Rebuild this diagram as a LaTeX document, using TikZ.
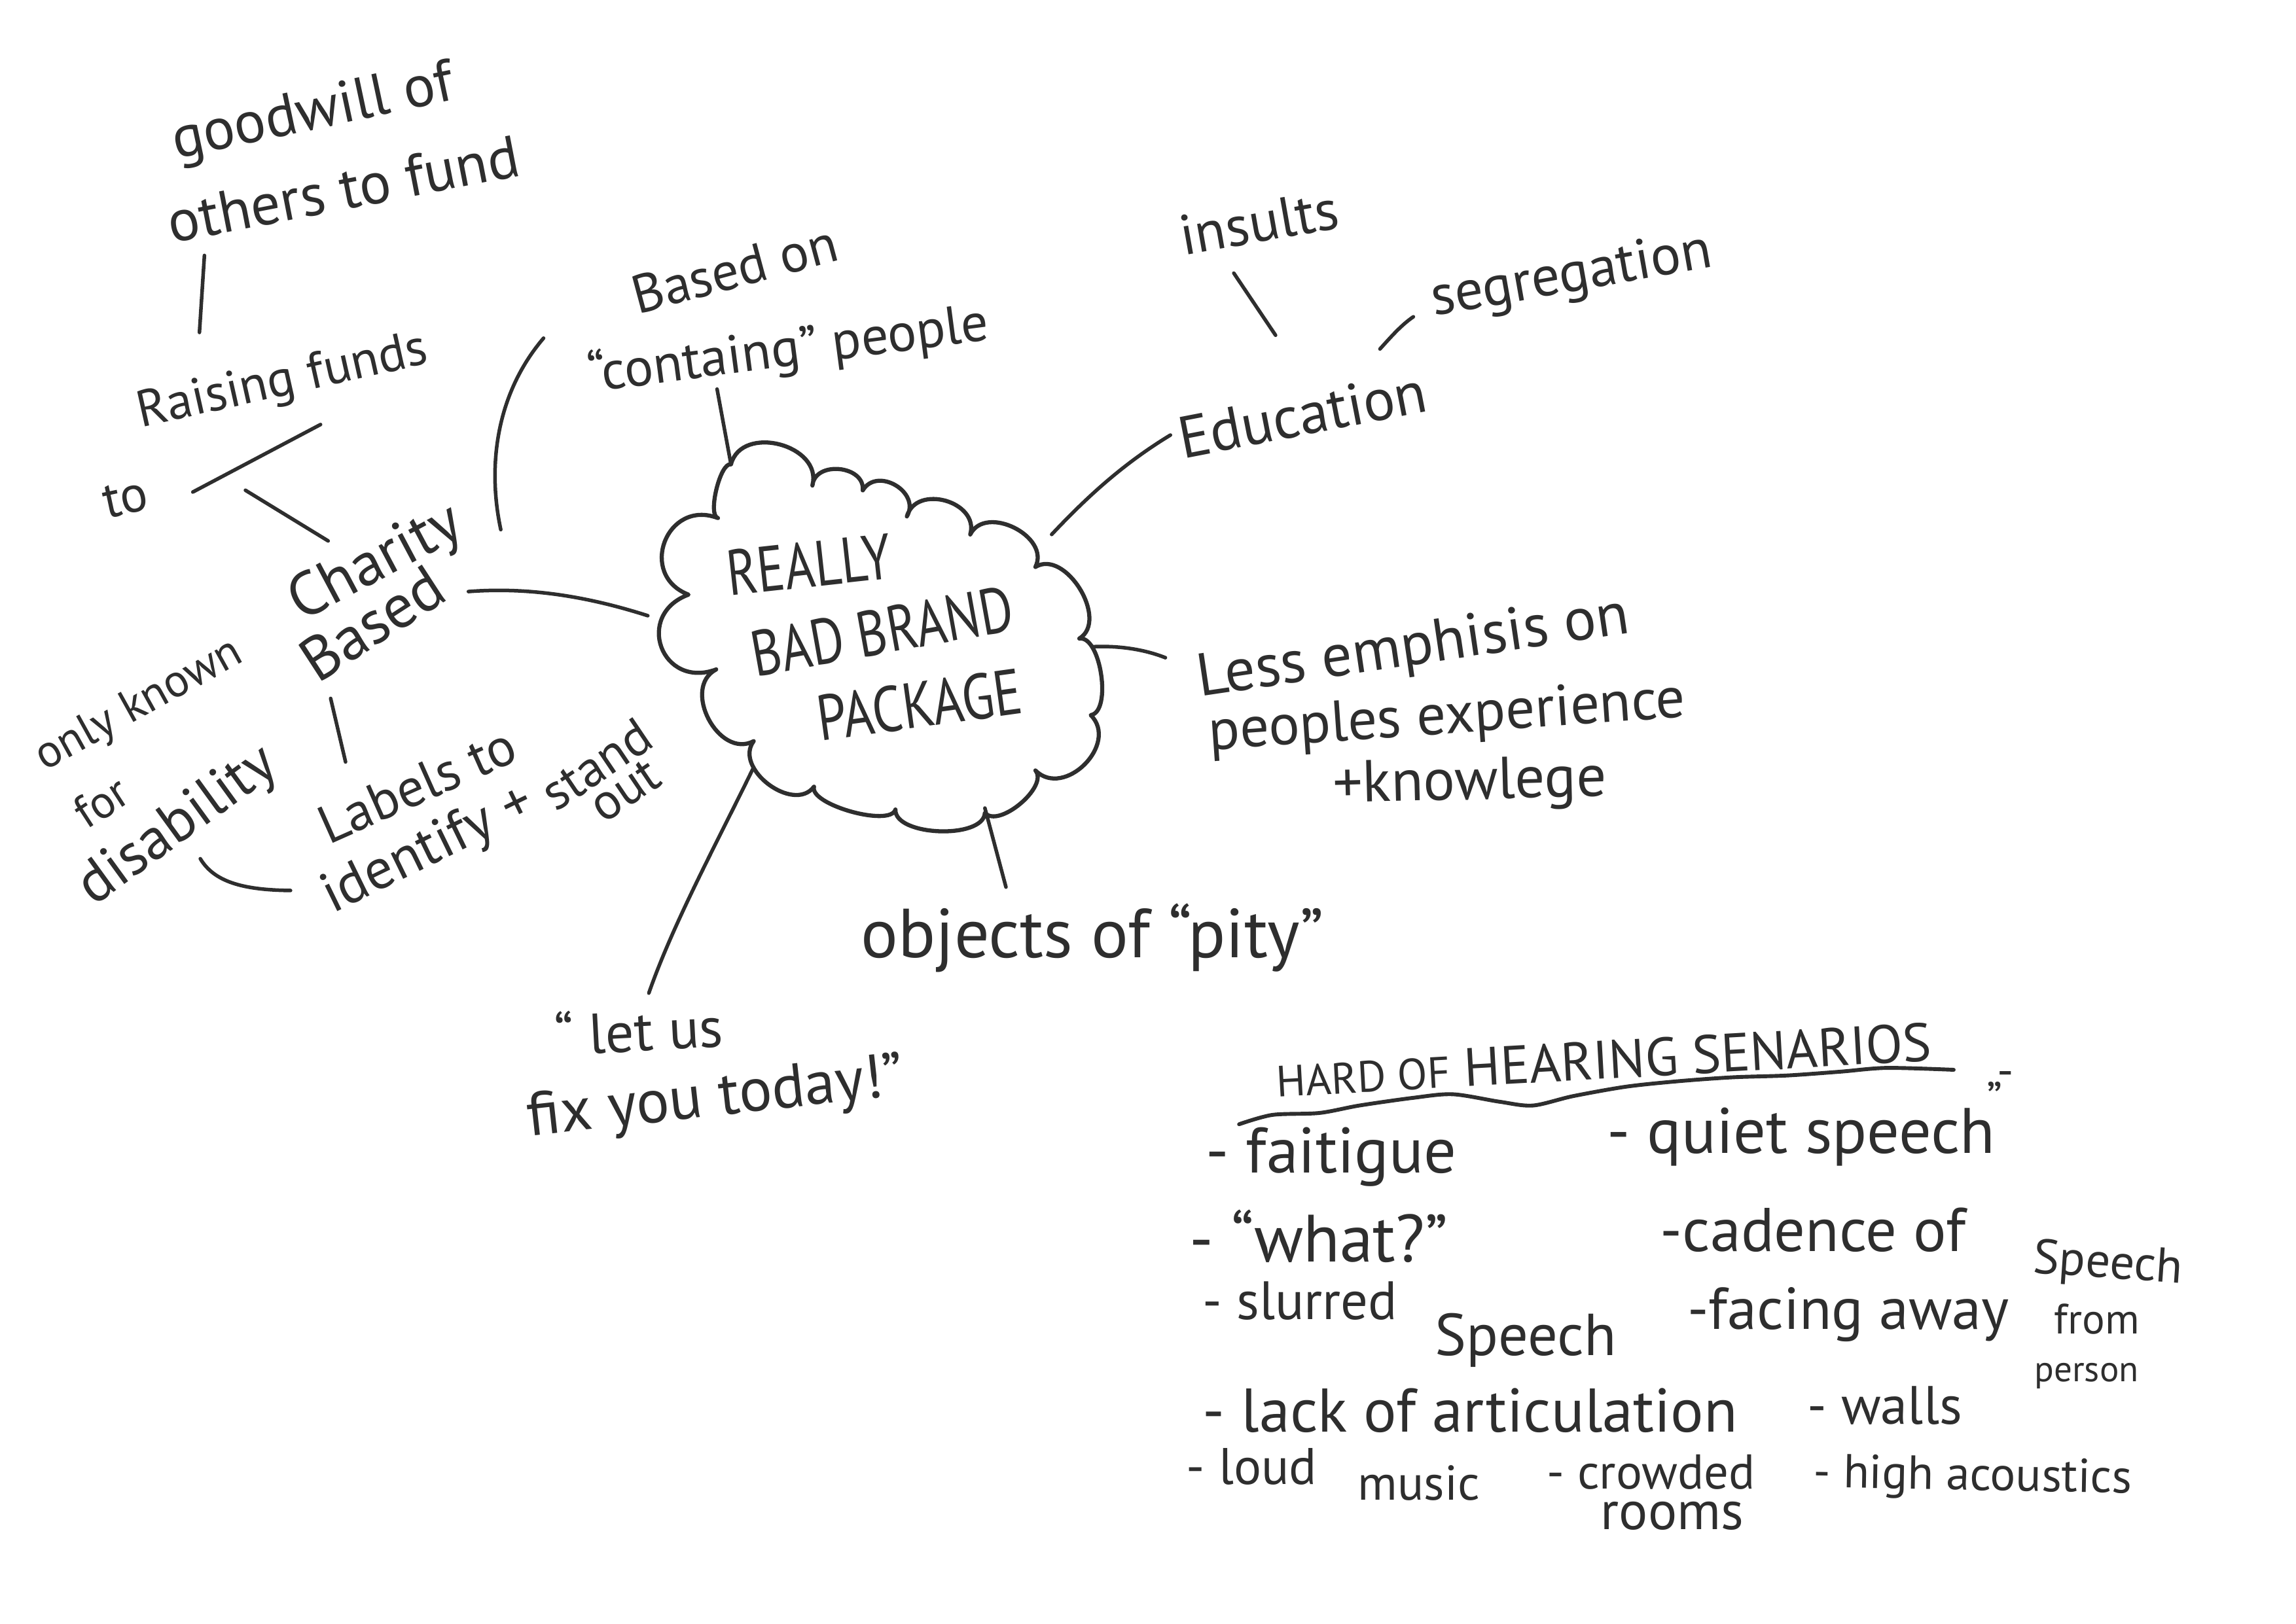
\documentclass[tikz,border=0pt]{standalone}
\usepackage{fontspec}
\usepackage{graphicx}
\setmainfont{PT Sans}
\usetikzlibrary{calc}
\definecolor{ink}{HTML}{2E2E2E}

\tikzset{
  word/.style={text=ink, inner sep=0pt, anchor=base},
  item/.style={text=ink, inner sep=0pt, anchor=base west},
  sz/.style={font=\fontsize{#1}{#1}\selectfont},
  pencil/.style={draw=ink, line width=1.4pt, line cap=round, line join=round},
  cloudline/.style={draw=ink, line width=1.6pt, line cap=round, line join=round},
}

\begin{document}
\begin{tikzpicture}[x=0.02cm, y=-0.02cm]
\useasboundingbox (0,0) rectangle (1568,1109);
\fill[white] (0,0) rectangle (1568,1109);

% ---------- central cloud ----------
\coordinate (p1)  at (499.2,317.2);
\coordinate (p2)  at (554.8,331.7);
\coordinate (p3)  at (589.2,335.0);
\coordinate (p4)  at (619.3,352.8);
\coordinate (p5)  at (662.6,365.1);
\coordinate (p6)  at (707.1,387.3);
\coordinate (p7)  at (737.1,436.2);
\coordinate (p8)  at (744.9,488.5);
\coordinate (p9)  at (707.1,526.3);
\coordinate (p10) at (672.6,555.2);
\coordinate (p11) at (611.5,553.0);
\coordinate (p12) at (555.9,537.4);
\coordinate (p13) at (514.7,506.3);
\coordinate (p14) at (489.1,457.3);
\coordinate (p15) at (470.2,406.2);
\coordinate (p16) at (490.3,353.9);

\draw[cloudline] (p1)
  .. controls ($(p1)!0.50!90:(p2)$) and ($(p2)!0.50!-90:(p1)$) .. (p2)
  .. controls ($(p2)!0.50!90:(p3)$) and ($(p3)!0.50!-90:(p2)$) .. (p3)
  .. controls ($(p3)!0.55!90:(p4)$) and ($(p4)!0.55!-90:(p3)$) .. (p4)
  .. controls ($(p4)!0.52!90:(p5)$) and ($(p5)!0.52!-90:(p4)$) .. (p5)
  .. controls ($(p5)!0.47!90:(p6)$) and ($(p6)!0.47!-90:(p5)$) .. (p6)
  .. controls ($(p6)!0.42!90:(p7)$) and ($(p7)!0.42!-90:(p6)$) .. (p7)
  .. controls ($(p7)!0.28!90:(p8)$) and ($(p8)!0.28!-90:(p7)$) .. (p8)
  .. controls ($(p8)!0.52!90:(p9)$) and ($(p9)!0.52!-90:(p8)$) .. (p9)
  .. controls ($(p9)!0.32!90:(p10)$) and ($(p10)!0.32!-90:(p9)$) .. (p10)
  .. controls ($(p10)!0.30!90:(p11)$) and ($(p11)!0.30!-90:(p10)$) .. (p11)
  .. controls ($(p11)!0.22!90:(p12)$) and ($(p12)!0.22!-90:(p11)$) .. (p12)
  .. controls ($(p12)!0.45!90:(p13)$) and ($(p13)!0.45!-90:(p12)$) .. (p13)
  .. controls ($(p13)!0.49!90:(p14)$) and ($(p14)!0.49!-90:(p13)$) .. (p14)
  .. controls ($(p14)!0.73!90:(p15)$) and ($(p15)!0.73!-90:(p14)$) .. (p15)
  .. controls ($(p15)!0.67!90:(p16)$) and ($(p16)!0.67!-90:(p15)$) .. (p16)
  .. controls ($(p16)!0.20!90:(p1)$) and ($(p1)!0.20!-90:(p16)$) .. (p1);

\node[word, sz=25, rotate=6.3]  (really)   at (554,401)   {\scalebox{0.8}[1]{REALLY}};
\node[word, sz=25, rotate=10.2] (badbrand) at (605,446.2) {\scalebox{0.8}[1]{BAD BRAND}};
\node[word, sz=25, rotate=7.9]  (package)  at (630,496.7) {\scalebox{0.82}[1]{PACKAGE}};

% ---------- left branch ----------
\node[word, sz=23, rotate=12]   (goodwill)   at (216,88)  {goodwill of};
\node[word, sz=23, rotate=11]   (others)     at (237,143) {others to fund};
\node[word, sz=20, rotate=12.6] (raising)    at (195,270) {Raising funds};
\node[word, sz=20, rotate=12]   (to)         at (88,351)  {to};
\node[word, sz=24, rotate=28]   (charity)    at (262,395) {Charity};
\node[word, sz=24, rotate=33]   (based)      at (262,438) {Based};
\node[word, sz=18, rotate=29]   (onlyknown)  at (99,489)  {only known};
\node[word, sz=18, rotate=33]   (for)        at (75,557)  {for};
\node[word, sz=23, rotate=36]   (disability) at (128,573) {disability};
\node[word, sz=21, rotate=24]   (labels)     at (290,548) {Labels to};
\node[word, sz=22, rotate=26]   (identify)   at (297,590) {identify +};
\node[word, sz=20, rotate=34]   (stand)      at (414,532) {stand};
\node[word, sz=20, rotate=34]   (out)        at (433,549) {out};

\coordinate (goodwillfoot) at (139.6,174.5);
\coordinate (raisingtop)   at (136.2,227.1);
\coordinate (toline)       at (131.7,336.1);
\coordinate (fundsline)    at (218.9,290.0);
\coordinate (toshort)      at (167.6,334.9);
\coordinate (charitytop)   at (224.1,369.5);
\coordinate (charityright) at (342.0,361.8);
\coordinate (basedonfoot)  at (371.2,231.0);
\coordinate (basedright)   at (319.9,404.1);
\coordinate (cloudleft)    at (442.4,420.6);
\coordinate (basedfoot)    at (225.8,477.1);
\coordinate (labelstop)    at (236.0,520.5);
\coordinate (disabend)     at (136.8,586.6);
\coordinate (identstart)   at (198.4,608.3);

\draw[pencil] (goodwillfoot) -- (raisingtop);
\draw[pencil] (toline) -- (fundsline);
\draw[pencil] (toshort) -- (charitytop);
\draw[pencil] (charityright) .. controls (333,320) and (338,270) .. (basedonfoot);
\draw[pencil] (basedright) .. controls (360,401) and (400,407) .. (cloudleft);
\draw[pencil] (basedfoot) -- (labelstop);
\draw[pencil] (disabend) .. controls (146,602) and (165,608) .. (identstart);

% ---------- top branch ----------
\node[word, sz=21, rotate=15]  (basedon)  at (505,196) {Based on};
\node[word, sz=21, rotate=7.5] (containg) at (540,250) {``containg'' people};
\coordinate (containgfoot) at (489.7,265.8);
\draw[pencil] (containgfoot) -- (p1);

% ---------- right branch ----------
\node[word, sz=22, rotate=10]    (insults)     at (862,165)  {insults};
\node[word, sz=23, rotate=11]    (education)   at (892,297)  {Education};
\node[word, sz=22, rotate=10]    (segregation) at (1075,199) {segregation};
\node[word, sz=23.5, rotate=8.4] (less)        at (967,454)  {Less emphisis on};
\node[word, sz=22.5, rotate=4]   (peoples)     at (989,501)  {peoples experience};
\node[word, sz=23, rotate=1.5]   (knowlege)    at (1004,546) {+knowlege};

\coordinate (cloudne)     at (718.2,365.1);
\coordinate (eduleft)     at (799.3,297.2);
\coordinate (insultsfoot) at (842.6,186.6);
\coordinate (edutop)      at (871.1,229.0);
\coordinate (eduright)    at (942.4,238.4);
\coordinate (segleft)     at (965.2,216.4);
\coordinate (cloudeast)   at (746.0,441.8);
\coordinate (lessleft)    at (795.9,449.3);

\draw[pencil] (cloudne) .. controls (740,342) and (765,318) .. (eduleft);
\draw[pencil] (insultsfoot) -- (edutop);
\draw[pencil] (eduright) .. controls (950,230) and (957,222) .. (segleft);
\draw[pencil] (cloudeast) .. controls (762,441) and (780,443) .. (lessleft);

% ---------- bottom branch ----------
\node[word, sz=27]             (objects) at (746,654) {objects of ``pity''};
\node[word, sz=22, rotate=3]   (letus)   at (437,718) {`` let us};
\node[word, sz=24, rotate=6.3] (fixyou)  at (490,762) {fix you today!''};

\coordinate (cloudsouth) at (672.6,552.0);
\coordinate (objectstop) at (687.0,606.0);
\coordinate (cloudsw)    at (514.7,524.1);
\coordinate (letustop)   at (443.1,678.4);

\draw[pencil] (cloudsouth) -- (objectstop);
\draw[pencil] (cloudsw) .. controls (490,575) and (460,630) .. (letustop);

% ---------- hard of hearing list ----------
\node[word, sz=21, rotate=3.2] (title) at (1096,737)
  {{\fontsize{17}{17}\selectfont HARD OF} HEARING SENARIOS};
\node[word, sz=18] (titleend) at (1366,742) {„-};
\draw[pencil, line width=1.5pt] plot[smooth] coordinates {
  (846.2,768) (869,761.6) (900.9,760.3) (928.3,755.2) (964.7,750)
  (992.1,747.5) (1024,752.6) (1046.8,755.2) (1074.2,748.8) (1110.7,742.3)
  (1147.2,738.5) (1183.7,735.9) (1220.2,734.7) (1256.6,732.1) (1288.6,729.5)
  (1334.2,730.8)};

\node[item, sz=25] (fatigue)  at (823,801)    {- faitigue};
\node[item, sz=25] (quiet)    at (1097,788)   {- quiet speech};
\node[item, sz=26] (what)     at (812,862)    {- ``what?''};
\node[item, sz=24] (cadence)  at (1133.5,855) {-cadence of};
\node[word, sz=19, rotate=-4] (speechA) at (1439,873) {Speech};
\node[item, sz=21] (slurred)  at (821,901.5)  {- slurred};
\node[word, sz=23] (speechB)  at (1042,926)   {Speech};
\node[item, sz=23] (facing)   at (1152,908)   {-facing away};
\node[word, sz=16.5] (from)   at (1432,911)   {from};
\node[word, sz=14] (person)   at (1425,944)   {person};
\node[item, sz=24] (lack)     at (821,978)    {- lack of articulation};
\node[item, sz=21] (walls)    at (1234,973)   {- walls};
\node[item, sz=20] (loud)     at (810,1014)   {- loud};
\node[word, sz=19] (music)    at (969,1024.6) {music};
\node[item, sz=19] (crowded)  at (1056,1017)  {- crowded};
\node[word, sz=21] (rooms)    at (1142,1045)  {rooms};
\node[item, sz=18.5, rotate=-1] (acoustics) at (1238,1016) {- high acoustics};

\end{tikzpicture}
\end{document}
